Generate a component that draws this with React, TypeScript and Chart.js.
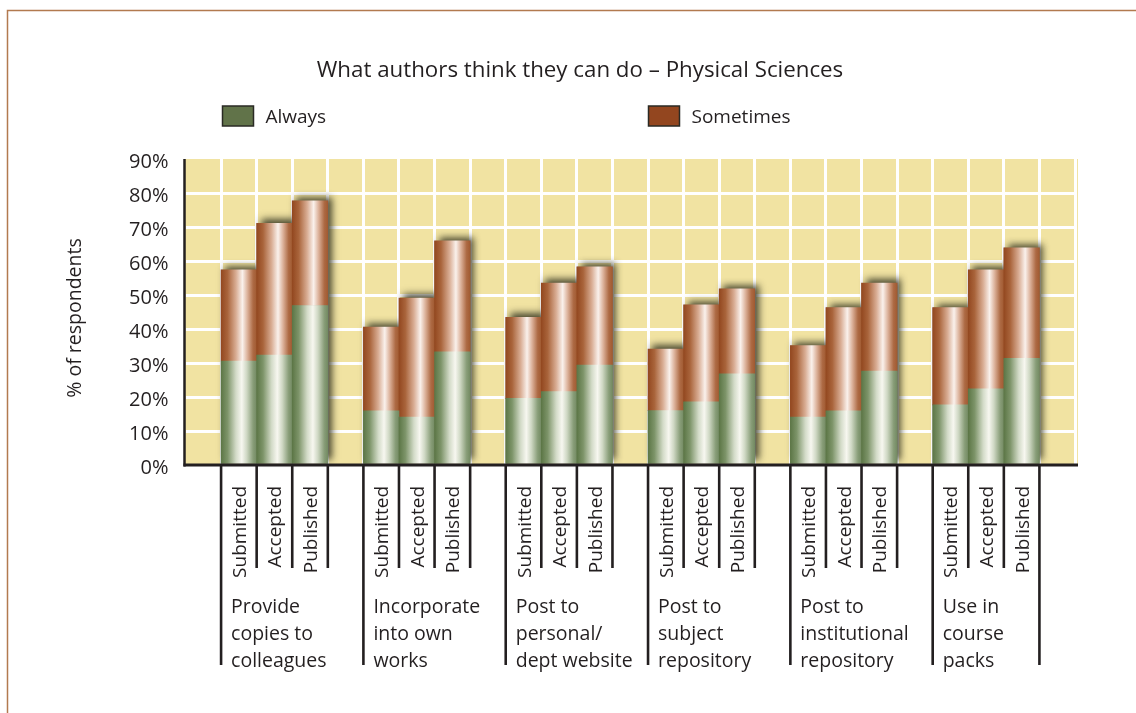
import React, { useEffect, useRef } from "react";
import { Chart, registerables } from "chart.js";

Chart.register(...registerables);

const TITLE = "What authors think they can do – Physical Sciences";
const Y_TITLE = "% of respondents";
const SERIES_NAMES = ["Always", "Sometimes"];
const STAGES = ["Submitted", "Accepted", "Published"];
const GROUPS = [
  ["Provide", "copies to", "colleagues"],
  ["Incorporate", "into own", "works"],
  ["Post to", "personal/", "dept website"],
  ["Post to", "subject", "repository"],
  ["Post to", "institutional", "repository"],
  ["Use in", "course", "packs"],
];
// values in %, order: group by group, Submitted / Accepted / Published
const ALWAYS = [30.6, 32.3, 46.9, 15.9, 14.1, 33.3, 19.6, 21.6, 29.4, 16.0, 18.6, 26.8, 14.1, 15.9, 27.6, 17.7, 22.4, 31.4];
const SOMETIMES = [26.8, 38.8, 30.8, 24.7, 35.0, 32.6, 23.8, 31.9, 28.9, 18.1, 28.5, 25.0, 21.0, 30.4, 25.9, 28.6, 35.0, 32.5];
const Y_MIN = 0;
const Y_MAX = 90;
const Y_STEP = 10;

const FONT = "'Open Sans', 'Noto Sans', sans-serif";
const TEXT = "#231f20";
const PLOT_BG = "#f1e3a2";
const GREEN = "#617349";
const BROWN = "#93461f";

// slot layout: one empty slot, then for each group three bars and one empty slot
const SLOT_LABELS: string[] = [""];
const ALWAYS_DATA: (number | null)[] = [null];
const SOMETIMES_DATA: (number | null)[] = [null];
GROUPS.forEach((_, g) => {
  STAGES.forEach((s, k) => {
    SLOT_LABELS.push(s);
    ALWAYS_DATA.push(ALWAYS[g * 3 + k]);
    SOMETIMES_DATA.push(SOMETIMES[g * 3 + k]);
  });
  SLOT_LABELS.push("");
  ALWAYS_DATA.push(null);
  SOMETIMES_DATA.push(null);
});

const GREEN_STOPS: [number, string][] = [
  [0, "#5c7646"],
  [0.18, "#7d9469"],
  [0.42, "#d3dbc8"],
  [0.58, "#f7f7f0"],
  [0.72, "#cfd8c4"],
  [0.9, "#889d78"],
  [1, "#738a62"],
];
const BROWN_STOPS: [number, string][] = [
  [0, "#934820"],
  [0.18, "#a9643b"],
  [0.42, "#d9ad94"],
  [0.6, "#faf1ec"],
  [0.74, "#dcb29b"],
  [0.9, "#ad6a44"],
  [1, "#a15a31"],
];

function gradient(stops: [number, string][]) {
  return (c: any) => {
    const chart = c.chart;
    const xs = chart.scales?.x;
    if (!xs || !chart.chartArea) return stops[0][1];
    const w = (xs.right - xs.left) / SLOT_LABELS.length;
    const cx = xs.getPixelForValue(c.dataIndex);
    const g = chart.ctx.createLinearGradient(cx - w / 2, 0, cx + w / 2, 0);
    stops.forEach(([o, col]) => g.addColorStop(o, col));
    return g;
  };
}

const decorPlugin = {
  id: "decor",
  beforeDraw(chart: any) {
    const { ctx, chartArea: a } = chart;
    ctx.save();
    ctx.fillStyle = PLOT_BG;
    ctx.fillRect(a.left - 1, a.top, a.right - a.left + 4, a.bottom - a.top);
    ctx.restore();
  },
  beforeDatasetsDraw(chart: any) {
    const { ctx } = chart;
    const m0 = chart.getDatasetMeta(0);
    const m1 = chart.getDatasetMeta(1);
    ctx.save();
    ctx.shadowColor = "rgba(55,55,35,0.9)";
    ctx.shadowBlur = 7;
    ctx.shadowOffsetX = 4;
    ctx.shadowOffsetY = -4;
    ctx.fillStyle = "#8a8060";
    m1.data.forEach((el: any, i: number) => {
      if (SOMETIMES_DATA[i] == null) return;
      const b = m0.data[i];
      const p = el.getProps(["x", "y", "width"], true);
      const base = b.getProps(["base"], true).base;
      ctx.fillRect(p.x - p.width / 2, p.y, p.width, base - p.y);
    });
    ctx.restore();
  },
  afterDatasetsDraw(chart: any) {
    const { ctx, chartArea: a } = chart;
    const xs = chart.scales.x;
    ctx.save();
    ctx.strokeStyle = TEXT;
    // axes
    ctx.lineWidth = 2.5;
    ctx.beginPath();
    ctx.moveTo(a.left - 1, a.top);
    ctx.lineTo(a.left - 1, a.bottom + 1.5);
    ctx.stroke();
    ctx.lineWidth = 3;
    ctx.beginPath();
    ctx.moveTo(a.left - 2, a.bottom);
    ctx.lineTo(a.right + 3, a.bottom);
    ctx.stroke();

    const w = (xs.right - xs.left) / SLOT_LABELS.length;
    const left = (i: number) => xs.getPixelForValue(i) - w / 2;
    ctx.lineWidth = 2.6;
    GROUPS.forEach((lines, g) => {
      const s = 1 + 4 * g;
      for (let k = 0; k <= 3; k++) {
        const x = left(s + k);
        const long = k === 0 || (k === 3 && g === GROUPS.length - 1);
        ctx.beginPath();
        ctx.moveTo(x, a.bottom);
        ctx.lineTo(x, long ? a.bottom + 200 : a.bottom + 103);
        ctx.stroke();
      }
      // stage labels
      ctx.fillStyle = TEXT;
      ctx.font = `19px ${FONT}`;
      for (let k = 0; k < 3; k++) {
        const cx = xs.getPixelForValue(s + k);
        ctx.save();
        ctx.translate(cx + 7, a.bottom + 21);
        ctx.rotate(-Math.PI / 2);
        ctx.textAlign = "right";
        ctx.textBaseline = "alphabetic";
        ctx.fillText(SLOT_LABELS[s + k], 0, 0);
        ctx.restore();
      }
      // group labels
      ctx.font = `19.5px ${FONT}`;
      ctx.textAlign = "left";
      ctx.textBaseline = "alphabetic";
      lines.forEach((t, li) => {
        ctx.fillText(t, left(s) + 10, a.bottom + 148 + li * 27);
      });
    });

    // title
    ctx.fillStyle = TEXT;
    ctx.font = `22.3px ${FONT}`;
    ctx.textAlign = "center";
    ctx.textBaseline = "alphabetic";
    ctx.fillText(TITLE, 580, 77);

    // legend
    const legendItems = [
      { x: 222.5, color: GREEN, text: chart.data.datasets[0].label },
      { x: 648.5, color: BROWN, text: chart.data.datasets[1].label },
    ];
    ctx.font = `19px ${FONT}`;
    ctx.textAlign = "left";
    legendItems.forEach((it) => {
      ctx.fillStyle = it.color;
      ctx.fillRect(it.x, 106, 31, 20);
      ctx.lineWidth = 1.5;
      ctx.strokeStyle = "#2a2a24";
      ctx.strokeRect(it.x, 106, 31, 20);
      ctx.fillStyle = TEXT;
      ctx.fillText(it.text, it.x + 43, 123);
    });

    // y title
    ctx.save();
    ctx.translate(75, 318);
    ctx.rotate(-Math.PI / 2);
    ctx.textAlign = "center";
    ctx.textBaseline = "middle";
    ctx.font = `19.5px ${FONT}`;
    ctx.fillText(Y_TITLE, 0, 0);
    ctx.restore();

    // outer frame (top & left)
    ctx.strokeStyle = "#b27a4f";
    ctx.lineWidth = 1.5;
    ctx.beginPath();
    ctx.moveTo(7.5, 713);
    ctx.lineTo(7.5, 10.5);
    ctx.lineTo(1136, 10.5);
    ctx.stroke();
    ctx.restore();
  },
};

export default function App() {
  const ref = useRef<HTMLCanvasElement | null>(null);
  useEffect(() => {
    if (!ref.current) return;
    const chart = new Chart(ref.current, {
      type: "bar",
      data: {
        labels: SLOT_LABELS,
        datasets: [
          { label: SERIES_NAMES[0], data: ALWAYS_DATA, backgroundColor: gradient(GREEN_STOPS), borderWidth: 0, stack: "s" },
          { label: SERIES_NAMES[1], data: SOMETIMES_DATA, backgroundColor: gradient(BROWN_STOPS), borderWidth: 0, stack: "s" },
        ],
      },
      options: {
        animation: false,
        responsive: false,
        maintainAspectRatio: false,
        layout: { padding: { left: 0, right: 61, top: 159, bottom: 0 } },
        datasets: { bar: { barPercentage: 1, categoryPercentage: 1 } },
        plugins: { legend: { display: false }, title: { display: false }, tooltip: { enabled: false } },
        scales: {
          x: {
            stacked: true,
            offset: true,
            grid: {
              offset: true,
              drawTicks: false,
              lineWidth: 3,
              color: (c: any) => (c.index === 0 || c.index >= SLOT_LABELS.length ? "rgba(0,0,0,0)" : "#ffffff"),
            },
            border: { display: false },
            ticks: { display: false },
            afterFit: (s: any) => {
              s.height = 248;
            },
          },
          y: {
            stacked: true,
            min: Y_MIN,
            max: Y_MAX,
            grid: {
              drawTicks: false,
              lineWidth: 3,
              color: (c: any) => (c.tick && (c.tick.value === Y_MIN || c.tick.value === Y_MAX) ? "rgba(0,0,0,0)" : "#ffffff"),
            },
            border: { display: false },
            ticks: {
              stepSize: Y_STEP,
              padding: 17,
              labelOffset: 3,
              color: TEXT,
              font: { family: FONT, size: 20 },
              callback: (v: any) => `${v}%`,
            },
            afterFit: (s: any) => {
              s.width = 185.5;
            },
          },
        },
      },
      plugins: [decorPlugin],
    });
    return () => chart.destroy();
  }, []);
  return (
    <div style={{ position: "absolute", left: 0, top: 0, width: 1136, height: 713, background: "#fff" }}>
      <canvas ref={ref} width={1136} height={713} style={{ display: "block" }} />
    </div>
  );
}
